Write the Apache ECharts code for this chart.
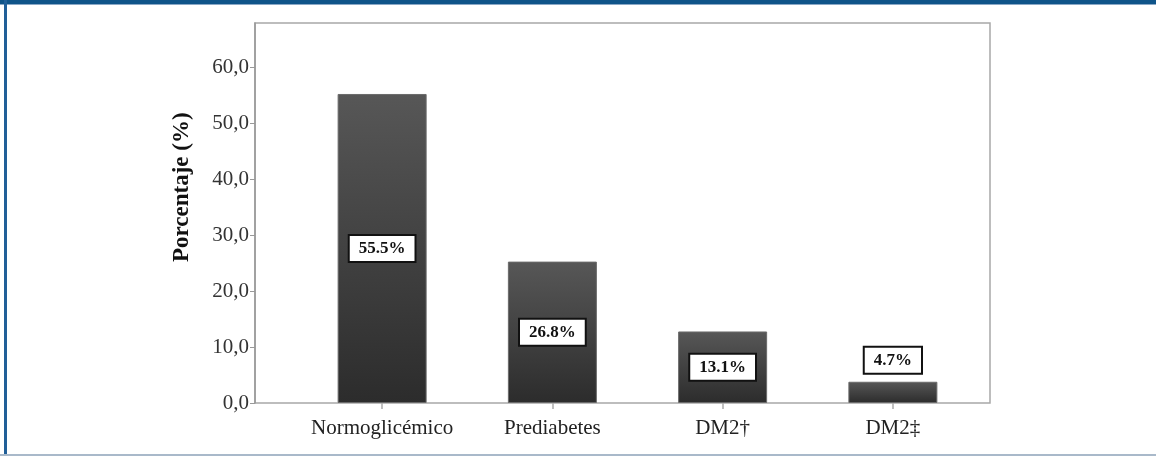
<!DOCTYPE html>
<html>
<head>
<meta charset="utf-8">
<script src="https://cdn.jsdelivr.net/npm/echarts@6/dist/echarts.min.js"></script>
<style>
html,body{margin:0;padding:0;background:#fff;}
#chart{width:1156px;height:456px;}
</style>
</head>
<body>
<div id="chart"></div>
<script>
const categories = ['Normoglicémico', 'Prediabetes', 'DM2†', 'DM2‡'];
const barValues = [55.3, 25.3, 12.8, 3.8];
const barLabels = ['55.5%', '26.8%', '13.1%', '4.7%'];
const yTickValues = [0, 10, 20, 30, 40, 50, 60];
const axisTitle = 'Porcentaje (%)';

const chart = echarts.init(document.getElementById('chart'), null, {renderer: 'canvas'});
const serif = '"Liberation Serif", "Times New Roman", serif';

const labelBox = {
  show: true,
  fontFamily: serif,
  fontWeight: 'bold',
  fontSize: 17,
  color: '#111',
  backgroundColor: '#fff',
  borderColor: '#111',
  borderWidth: 2,
  padding: [4, 9, 3, 9],
  lineHeight: 18
};

const option = {
  animation: false,
  backgroundColor: '#fff',
  grid: [
    {left: 255, right: 166, top: 23, bottom: 53, show: true, borderColor: '#a8a8a8', borderWidth: 1.5, backgroundColor: 'transparent'},
    {left: 297, right: 178, top: 23, bottom: 53}
  ],
  xAxis: [
    {gridIndex: 0, type: 'value', min: 0, max: 1, show: false},
    {
      gridIndex: 1, type: 'category', data: categories,
      axisLine: {show: false},
      axisTick: {show: true, alignWithLabel: true, interval: 0, length: 6, lineStyle: {color: '#aaa', width: 1.5}},
      axisLabel: {fontFamily: serif, fontSize: 21, color: '#222', margin: 15, interval: 0, hideOverlap: false}
    }
  ],
  yAxis: [
    {
      gridIndex: 0, type: 'value', min: 0, max: 68, interval: 10,
      axisLine: {show: true, lineStyle: {color: '#999', width: 1.5}},
      axisTick: {show: true, length: 5, lineStyle: {color: '#999', width: 1}},
      splitLine: {show: false},
      axisLabel: {
        fontFamily: serif, fontSize: 21, color: '#333', margin: 6,
        showMaxLabel: false,
        formatter: function (v) { return yTickValues.indexOf(v) >= 0 ? v.toFixed(1).replace('.', ',') : ''; }
      }
    },
    {gridIndex: 1, type: 'value', min: 0, max: 68, show: false}
  ],
  series: [{
    type: 'bar',
    xAxisIndex: 1, yAxisIndex: 1,
    barWidth: 89,
    data: barValues.map(function (v, i) {
      return {
        value: v,
        label: Object.assign({}, labelBox, i === 3 ? {position: 'top', distance: 9} : {position: 'inside'}, {
          formatter: function () { return barLabels[i]; }
        })
      };
    }),
    itemStyle: {
      color: new echarts.graphic.LinearGradient(0, 0, 0, 1, [
        {offset: 0, color: '#575757'},
        {offset: 1, color: '#2c2c2c'}
      ]),
      borderColor: '#6a6a6a',
      borderWidth: 1
    }
  }],
  graphic: [
    {type: 'text', rotation: Math.PI / 2, style: {text: axisTitle, fontFamily: serif, fontWeight: 'bold', fontSize: 23, fill: '#111'}, z: 10,
     x: 171, y: 262, originX: 0, originY: 0},
    {type: 'rect', shape: {x: 0, y: 0, width: 1156, height: 4}, style: {fill: '#0f5489'}, z: 20},
    {type: 'rect', shape: {x: 0, y: 4, width: 1156, height: 1}, style: {fill: '#8aa8c6'}, z: 20},
    {type: 'rect', shape: {x: 4, y: 0, width: 3, height: 456}, style: {fill: '#215f98'}, z: 20},
    {type: 'rect', shape: {x: 0, y: 454, width: 1156, height: 2}, style: {fill: '#a9b9ca'}, z: 20}
  ]
};
chart.setOption(option);
</script>
</body>
</html>
